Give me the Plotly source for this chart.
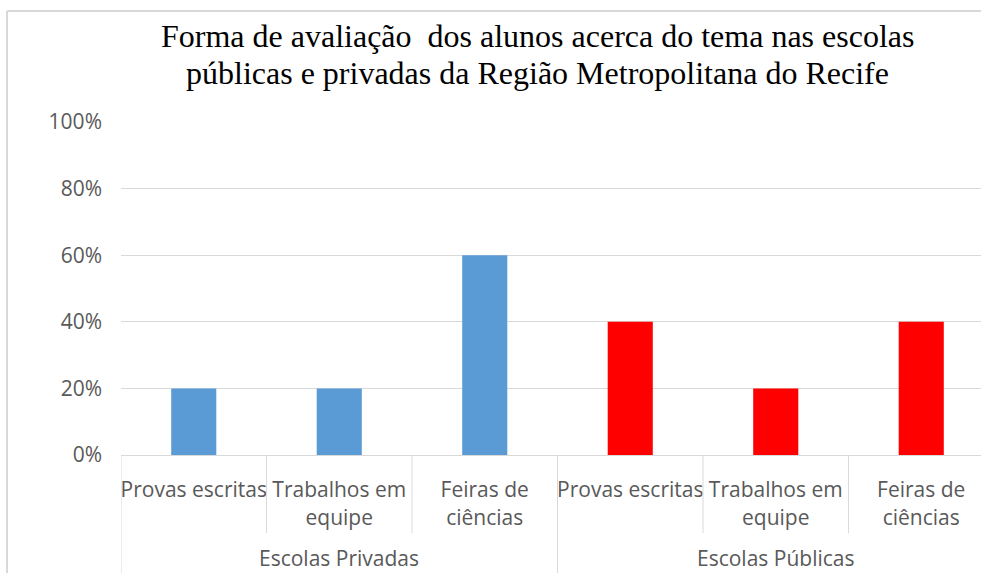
import plotly.graph_objects as go

# ---- data ----
groups = ["Escolas Privadas", "Escolas Públicas"]
methods = ["Provas escritas", "Trabalhos em<br>equipe", "Feiras de<br>ciências"]
values_privadas = [0.20, 0.20, 0.60]
values_publicas = [0.40, 0.20, 0.40]
y_ticks = [0, 0.2, 0.4, 0.6, 0.8, 1.0]
title_lines = ["Forma de avaliação  dos alunos acerca do tema nas escolas",
               "públicas e privadas da Região Metropolitana do Recife"]

# ---- layout constants ----
W, H = 981, 573
ML, MR, MT, MB = 121, 0, 122, 118
PH = H - MT - MB
PW = W - ML - MR
unit = 145.5
x_end = -0.5 + PW / unit
grid_col = "#D9D9D9"
txt_col = "#595959"
font_sans = "Open Sans"
fs = 21

n = len(methods)
x_priv = list(range(n))
x_pub = [n + i for i in range(n)]

fig = go.Figure()
fig.add_trace(go.Bar(x=x_priv, y=values_privadas, width=0.31,
                     marker=dict(color="#5B9BD5", line=dict(width=0)),
                     name=groups[0], showlegend=False))
fig.add_trace(go.Bar(x=x_pub, y=values_publicas, width=0.31,
                     marker=dict(color="#FF0000", line=dict(width=0)),
                     name=groups[1], showlegend=False))

def py(pix):
    return (H - MB - pix) / PH

def px(pix):
    return (pix - ML) / PW

shapes = []
# inner dividers
for k in range(2 * n - 1):
    xv = k + 0.5
    if (k + 1) % n == 0:
        continue
    shapes.append(dict(type="line", xref="x", yref="paper", x0=xv, x1=xv,
                       y0=0, y1=py(533), line=dict(color=grid_col, width=1)))
# outer dividers
for g in range(len(groups)):
    xv = g * n - 0.5
    shapes.append(dict(type="line", xref="x", yref="paper", x0=xv, x1=xv,
                       y0=0, y1=py(H + 5), line=dict(color=grid_col, width=1)))
# chart frame
shapes.append(dict(type="line", xref="paper", yref="paper", x0=px(7), x1=px(W + 5),
                   y0=py(11), y1=py(11), line=dict(color=grid_col, width=2)))
shapes.append(dict(type="line", xref="paper", yref="paper", x0=px(7), x1=px(7),
                   y0=py(11), y1=py(H + 5), line=dict(color=grid_col, width=2)))

annotations = []
for g, name in enumerate(groups):
    annotations.append(dict(x=g * n + (n - 1) / 2, y=py(558), xref="x", yref="paper",
                            text=name, showarrow=False, yanchor="middle", borderpad=0,
                            font=dict(family=font_sans, size=fs, color=txt_col)))
for line, yc in zip(title_lines, [36, 73]):
    annotations.append(dict(x=px(537), y=py(yc), xref="paper", yref="paper",
                            text=line, showarrow=False, xanchor="center",
                            yanchor="middle",
                            font=dict(family="Liberation Serif", size=32, color="black")))

fig.update_layout(
    width=W, height=H,
    margin=dict(l=ML, r=MR, t=MT, b=MB),
    paper_bgcolor="white", plot_bgcolor="white",
    xaxis=dict(range=[-0.5, x_end], tickmode="array", tickvals=x_priv + x_pub,
               ticktext=methods + methods, showgrid=False, zeroline=False,
               showline=True, linecolor=grid_col, linewidth=1, ticks="",
               ticklabelstandoff=16,
               tickfont=dict(family=font_sans, size=fs, color=txt_col)),
    yaxis=dict(range=[0, 1], tickmode="array", tickvals=y_ticks, tickformat=".0%",
               showgrid=True, gridcolor=grid_col, gridwidth=1, zeroline=False,
               showline=False, ticks="", ticklabelstandoff=18,
               tickfont=dict(family=font_sans, size=fs, color=txt_col)),
    shapes=shapes, annotations=annotations, bargap=0.69,
)

fig.write_html("out.html", config={"displayModeBar": False},
               post_script="document.body.style.margin='0';"
                           "document.body.style.overflow='hidden';")
